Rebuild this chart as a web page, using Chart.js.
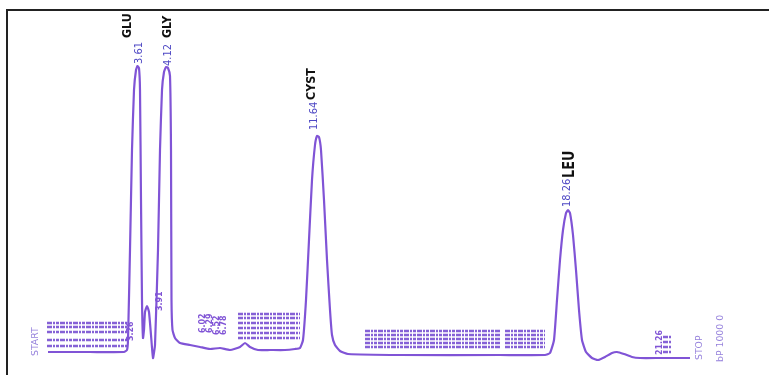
<!DOCTYPE html>
<html><head><meta charset="utf-8">
<script src="https://cdn.jsdelivr.net/npm/chart.js@4"></script>
<style>
html,body{margin:0;padding:0;background:#fff;overflow:hidden}
#wrap{position:relative;width:769px;height:375px;background:#fff}
#frame{position:absolute;left:6px;top:9px;right:-4px;bottom:-4px;border-top:2px solid #222;border-left:2px solid #222;pointer-events:none}
canvas{position:absolute;left:0;top:0}
</style>
</head><body><div id="wrap"><canvas id="c" width="769" height="375"></canvas><div id="frame"></div></div>
<script>
// ---- data (chart paper position vs detector signal) ----
const position = [48,90,124,127,128,130,132,134,136,137.5,139,140,141,142,143,144,145,147,149,151,153,155,158,160,162,164,166,168,170,171,171.5,172.5,175,180,190,200,210,220,230,240,245,250,258,270,285,295,300,303,306,309,312,315,317,319,321,324,327,330,332,335,340,348,400,500,545,550,554,557,560,563,566,568,570,573,576,579,582,586,592,598,605,612,617,624,632,640,660,690];
const signal   = [3,3,3,5,15,105,205,265,285,289,287,265,155,55,17,25,43,49,43,20,-3,10,105,205,265,283,288,287,279,205,55,25,17,12,10,8,6,7,5,8,12,8,5,5,5,6,7,15,55,115,175,210,219,218,205,155,95,45,20,10,4,1,0,0,0,2,15,55,95,125,142,145,142,120,85,45,15,3,-3,-5,-2,2,3,1,-2,-3,-3,-3];

const peakNames     = ["GLU","GLY","CYST","LEU"];
const peakTimes     = ["3.61","4.12","11.64","18.26"];
const peakPositions = [138.5,167,315,567.5];
const peakHeights   = [289,288,219,145];

const minorTimes     = ["3.26","3.91","6.02","6.29","6.52","6.78","21.26"];
const minorPositions = [131,160,203,210,217,224,660];
const minorHeights   = [12,42,20,20,18,18,-2];

const markerTexts     = ["START","STOP","bP 1000 0"];
const markerPositions = [36,700,721];
const markerHeights   = [-1,-5,-7];

// smeared over-printed label blocks: [from, to] positions with signal rows
const blockRanges = [[47,127],[238,300],[365,500],[505,545],[663,672]];
const blockRows   = [[32,28,23,15,9],[41,37,32,27,22,17],[24,20,16,12,8],[24,20,16,12,8],[18,13,8,3]];

// ---- styles ----
const TRACE = 'rgb(128,84,214)';
const BLUE = 'rgb(78,72,196)';
const LIGHT = 'rgb(150,130,220)';
const nameStyle = [{dx:-11,dy:-26,size:13},{dx:1,dy:-28,size:13},{dx:-3,dy:-30,size:13},{dx:3,dy:-29,size:15}];
const timeStyle = [{dx:0.5,dy:-2},{dx:1,dy:-1},{dx:-0.5,dy:-6},{dx:0,dy:-3}];

function rotText(ctx, txt, x, y, font, color, stretch){
  ctx.save();
  ctx.translate(x, y);
  ctx.rotate(-Math.PI/2);
  ctx.scale(stretch, 1);
  ctx.font = font;
  ctx.fillStyle = color;
  ctx.textAlign = 'left';
  ctx.textBaseline = 'middle';
  ctx.fillText(txt, 0, 0);
  ctx.restore();
}

const labelPlugin = {
  id: 'labels',
  afterDatasetsDraw(chart){
    const ctx = chart.ctx, xs = chart.scales.x, ys = chart.scales.y;
    ctx.save();
    ctx.strokeStyle = 'rgba(120,80,210,0.9)';
    ctx.lineWidth = 2.5;
    ctx.setLineDash([5,1,2,1,3,1]);
    blockRanges.forEach((r, i) => {
      const x0 = xs.getPixelForValue(r[0]), x1 = xs.getPixelForValue(r[1]);
      blockRows[i].forEach(v => {
        const y = ys.getPixelForValue(v);
        ctx.beginPath(); ctx.moveTo(x0, y); ctx.lineTo(x1, y); ctx.stroke();
      });
    });
    ctx.restore();
    peakNames.forEach((n, i) => {
      const px = xs.getPixelForValue(peakPositions[i]);
      const py = ys.getPixelForValue(peakHeights[i]);
      const t = timeStyle[i], s = nameStyle[i];
      rotText(ctx, peakTimes[i], px + t.dx, py + t.dy, '10px "DejaVu Sans Condensed", "DejaVu Sans", sans-serif', BLUE, 1.1);
      rotText(ctx, n, px + s.dx, py + t.dy + s.dy, 'bold ' + s.size + 'px "Liberation Sans Narrow", "DejaVu Sans Condensed", "Liberation Sans", sans-serif', '#111', 0.95);
    });
    minorTimes.forEach((m, i) => {
      const px = xs.getPixelForValue(minorPositions[i]);
      const py = ys.getPixelForValue(minorHeights[i]);
      rotText(ctx, m, px, py - 2, 'bold 8px "DejaVu Sans Condensed", "DejaVu Sans", sans-serif', TRACE, 1.1);
    });
    markerTexts.forEach((m, i) => {
      const px = xs.getPixelForValue(markerPositions[i]);
      const py = ys.getPixelForValue(markerHeights[i]);
      rotText(ctx, m, px, py, '9px "DejaVu Sans Condensed", "DejaVu Sans", sans-serif', LIGHT, 1.15);
    });
  }
};

new Chart(document.getElementById('c'), {
  type: 'line',
  data: {
    datasets: [{
      data: position.map((p, i) => ({x: p, y: signal[i]})),
      borderColor: TRACE,
      borderWidth: 2.2,
      borderJoinStyle: 'round',
      pointRadius: 0,
      fill: false,
      tension: 0.15
    }]
  },
  options: {
    responsive: false,
    animation: false,
    layout: {padding: 0},
    plugins: {legend: {display: false}, tooltip: {enabled: false}, title: {display: false}},
    scales: {
      x: {type: 'linear', min: 0, max: 769, display: false},
      y: {type: 'linear', min: -20, max: 355, display: false}
    }
  },
  plugins: [labelPlugin]
});
</script>
</body></html>
